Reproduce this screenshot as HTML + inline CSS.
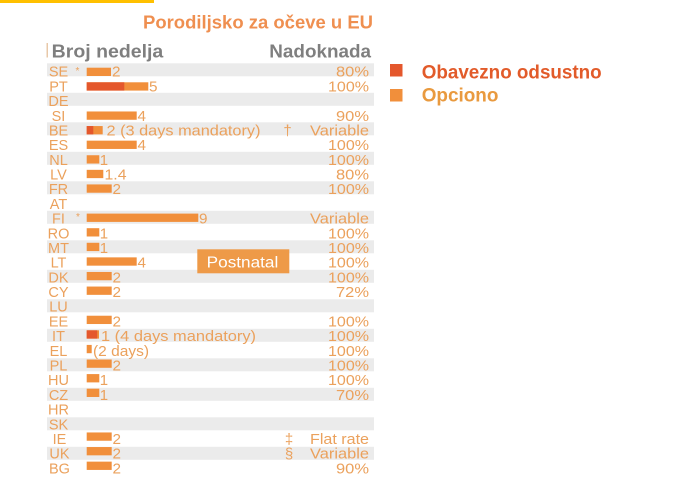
<!DOCTYPE html>
<html>
<head>
<meta charset="utf-8">
<style>
html,body{margin:0;padding:0;background:#fff;}
svg{display:block;}
text{font-family:"Liberation Sans",sans-serif;}
.c{fill:#EBA15C;font-size:14.5px;text-anchor:middle;}
.v{fill:#EBA15C;font-size:15px;}
.r{fill:#EBA15C;font-size:15px;text-anchor:end;}
.s{fill:#EBA15C;font-size:15px;text-anchor:middle;}
.a{fill:#EBA15C;font-size:10px;text-anchor:middle;}
.L{fill:#F18F3B;}
.D{fill:#E4572C;}
.g{fill:#EBEBEB;}
</style>
</head>
<body>
<svg width="674" height="496" viewBox="0 0 674 496" xmlns="http://www.w3.org/2000/svg">
<rect x="0" y="0" width="674" height="496" fill="#fff"/>
<rect x="0" y="0" width="154" height="3" fill="#FFC000"/>

<text x="143" y="28.3" font-size="18.5" font-weight="bold" fill="#EF8F50" textLength="230" lengthAdjust="spacingAndGlyphs">Porodiljsko za očeve u EU</text>

<rect x="46.5" y="43" width="1.5" height="14.5" fill="#E8C8A8"/>
<text x="51.7" y="57.3" font-size="18" font-weight="bold" fill="#7F7F7F" textLength="111.6" lengthAdjust="spacingAndGlyphs">Broj nedelja</text>
<text x="269.3" y="57.3" font-size="18" font-weight="bold" fill="#7F7F7F" textLength="101.7" lengthAdjust="spacingAndGlyphs">Nadoknada</text>

<!-- gray bands (even rows) -->
<rect class="g" x="47" y="63.3" width="327" height="13"/>
<rect class="g" x="47" y="92.8" width="327" height="13"/>
<rect class="g" x="47" y="122.3" width="327" height="13"/>
<rect class="g" x="47" y="151.8" width="327" height="13"/>
<rect class="g" x="47" y="181.3" width="327" height="13"/>
<rect class="g" x="47" y="210.8" width="327" height="13"/>
<rect class="g" x="47" y="240.3" width="327" height="13"/>
<rect class="g" x="47" y="269.8" width="327" height="13"/>
<rect class="g" x="47" y="299.3" width="327" height="13"/>
<rect class="g" x="47" y="328.8" width="327" height="13"/>
<rect class="g" x="47" y="358.3" width="327" height="13"/>
<rect class="g" x="47" y="387.8" width="327" height="13"/>
<rect class="g" x="47" y="417.3" width="327" height="13"/>
<rect class="g" x="47" y="446.8" width="327" height="13"/>

<!-- country codes -->
<text class="c" x="58.5" y="76.7">SE</text>
<text class="c" x="58.5" y="91.39">PT</text>
<text class="c" x="58.5" y="106.08">DE</text>
<text class="c" x="58.5" y="120.77">SI</text>
<text class="c" x="58.5" y="135.46">BE</text>
<text class="c" x="58.5" y="150.15">ES</text>
<text class="c" x="58.5" y="164.84">NL</text>
<text class="c" x="58.5" y="179.53">LV</text>
<text class="c" x="58.5" y="194.22">FR</text>
<text class="c" x="58.5" y="208.91">AT</text>
<text class="c" x="58.5" y="223.6">FI</text>
<text class="c" x="58.5" y="238.29">RO</text>
<text class="c" x="58.5" y="252.98">MT</text>
<text class="c" x="58.5" y="267.67">LT</text>
<text class="c" x="58.5" y="282.36">DK</text>
<text class="c" x="58.5" y="297.05">CY</text>
<text class="c" x="58.5" y="311.74">LU</text>
<text class="c" x="58.5" y="326.43">EE</text>
<text class="c" x="58.5" y="341.12">IT</text>
<text class="c" x="58.5" y="355.81">EL</text>
<text class="c" x="58.5" y="370.5">PL</text>
<text class="c" x="58.5" y="385.19">HU</text>
<text class="c" x="58.5" y="399.88">CZ</text>
<text class="c" x="58.5" y="414.57">HR</text>
<text class="c" x="58.5" y="429.26">SK</text>
<text class="c" x="59.5" y="443.95">IE</text>
<text class="c" x="59.5" y="458.64">UK</text>
<text class="c" x="59.5" y="473.33">BG</text>

<!-- asterisks -->
<text class="a" x="77.5" y="74">*</text>
<text class="a" x="78" y="220">*</text>

<!-- bars -->
<rect class="L" x="86.7" y="67.7" width="24.3" height="8.3"/>
<rect class="L" x="86.7" y="82.29" width="61.6" height="8.3"/>
<rect class="D" x="86.7" y="82.29" width="37.6" height="8.3"/>
<rect class="L" x="86.7" y="111.47" width="50" height="8.3"/>
<rect class="L" x="86.7" y="126.06" width="16" height="8.3"/>
<rect class="D" x="86.7" y="126.06" width="6.6" height="8.3"/>
<rect class="L" x="86.7" y="140.65" width="50" height="8.3"/>
<rect class="L" x="86.7" y="155.24" width="12.6" height="8.3"/>
<rect class="L" x="86.7" y="169.83" width="16.6" height="8.3"/>
<rect class="L" x="86.7" y="184.42" width="25" height="8.3"/>
<rect class="L" x="86.7" y="213.6" width="111.6" height="8.3"/>
<rect class="L" x="86.7" y="228.19" width="12.6" height="8.3"/>
<rect class="L" x="86.7" y="242.78" width="12.6" height="8.3"/>
<rect class="L" x="86.7" y="257.37" width="50" height="8.3"/>
<rect class="L" x="86.7" y="271.96" width="25" height="8.3"/>
<rect class="L" x="86.7" y="286.55" width="25" height="8.3"/>
<rect class="L" x="86.7" y="315.73" width="25" height="8.3"/>
<rect class="L" x="86.7" y="330.32" width="12.3" height="8.3"/>
<rect class="D" x="86.7" y="330.32" width="10.5" height="8.3"/>
<rect class="L" x="86.7" y="344.91" width="5" height="8.3"/>
<rect class="L" x="86.7" y="359.5" width="25" height="8.3"/>
<rect class="L" x="86.7" y="374.09" width="12.6" height="8.3"/>
<rect class="L" x="86.7" y="388.68" width="12.6" height="8.3"/>
<rect class="L" x="86.7" y="432.45" width="25" height="8.3"/>
<rect class="L" x="86.7" y="447.04" width="25" height="8.3"/>
<rect class="L" x="86.7" y="461.63" width="25" height="8.3"/>

<!-- values -->
<text class="v" x="112" y="76.7" textLength="8.5" lengthAdjust="spacingAndGlyphs">2</text>
<text class="v" x="149" y="91.39" textLength="8.5" lengthAdjust="spacingAndGlyphs">5</text>
<text class="v" x="137.5" y="120.77" textLength="8.5" lengthAdjust="spacingAndGlyphs">4</text>
<text class="v" x="106.5" y="135.46" textLength="154" lengthAdjust="spacingAndGlyphs">2 (3 days mandatory)</text>
<text class="v" x="137.5" y="150.15" textLength="8.5" lengthAdjust="spacingAndGlyphs">4</text>
<text class="v" x="99.8" y="164.84">1</text>
<text class="v" x="104.5" y="179.53" textLength="22" lengthAdjust="spacingAndGlyphs">1.4</text>
<text class="v" x="112.5" y="194.22" textLength="8.5" lengthAdjust="spacingAndGlyphs">2</text>
<text class="v" x="199" y="223.6" textLength="8.5" lengthAdjust="spacingAndGlyphs">9</text>
<text class="v" x="99.8" y="238.29">1</text>
<text class="v" x="99.8" y="252.98">1</text>
<text class="v" x="137.5" y="267.67" textLength="8.5" lengthAdjust="spacingAndGlyphs">4</text>
<text class="v" x="112.5" y="282.36" textLength="8.5" lengthAdjust="spacingAndGlyphs">2</text>
<text class="v" x="112.5" y="297.05" textLength="8.5" lengthAdjust="spacingAndGlyphs">2</text>
<text class="v" x="112.5" y="326.43" textLength="8.5" lengthAdjust="spacingAndGlyphs">2</text>
<text class="v" x="101" y="341.12" textLength="155" lengthAdjust="spacingAndGlyphs">1 (4 days mandatory)</text>
<text class="v" x="93" y="355.81" textLength="56" lengthAdjust="spacingAndGlyphs">(2 days)</text>
<text class="v" x="112.5" y="370.5" textLength="8.5" lengthAdjust="spacingAndGlyphs">2</text>
<text class="v" x="99.8" y="385.19">1</text>
<text class="v" x="99.8" y="399.88">1</text>
<text class="v" x="112.5" y="443.95" textLength="8.5" lengthAdjust="spacingAndGlyphs">2</text>
<text class="v" x="112.5" y="458.64" textLength="8.5" lengthAdjust="spacingAndGlyphs">2</text>
<text class="v" x="112.5" y="473.33" textLength="8.5" lengthAdjust="spacingAndGlyphs">2</text>

<!-- symbols -->
<text class="s" x="287.5" y="135.46">†</text>
<text class="s" x="289" y="443.95">‡</text>
<text class="s" x="289" y="458.64">§</text>

<!-- right column -->
<text class="r" x="369" y="76.7" textLength="33" lengthAdjust="spacingAndGlyphs">80%</text>
<text class="r" x="369" y="91.39" textLength="41" lengthAdjust="spacingAndGlyphs">100%</text>
<text class="r" x="369" y="120.77" textLength="33" lengthAdjust="spacingAndGlyphs">90%</text>
<text class="r" x="369" y="135.46" textLength="59" lengthAdjust="spacingAndGlyphs">Variable</text>
<text class="r" x="369" y="150.15" textLength="41" lengthAdjust="spacingAndGlyphs">100%</text>
<text class="r" x="369" y="164.84" textLength="41" lengthAdjust="spacingAndGlyphs">100%</text>
<text class="r" x="369" y="179.53" textLength="33" lengthAdjust="spacingAndGlyphs">80%</text>
<text class="r" x="369" y="194.22" textLength="41" lengthAdjust="spacingAndGlyphs">100%</text>
<text class="r" x="369" y="223.6" textLength="59" lengthAdjust="spacingAndGlyphs">Variable</text>
<text class="r" x="369" y="238.29" textLength="41" lengthAdjust="spacingAndGlyphs">100%</text>
<text class="r" x="369" y="252.98" textLength="41" lengthAdjust="spacingAndGlyphs">100%</text>
<text class="r" x="369" y="267.67" textLength="41" lengthAdjust="spacingAndGlyphs">100%</text>
<text class="r" x="369" y="282.36" textLength="41" lengthAdjust="spacingAndGlyphs">100%</text>
<text class="r" x="369" y="297.05" textLength="33" lengthAdjust="spacingAndGlyphs">72%</text>
<text class="r" x="369" y="326.43" textLength="41" lengthAdjust="spacingAndGlyphs">100%</text>
<text class="r" x="369" y="341.12" textLength="41" lengthAdjust="spacingAndGlyphs">100%</text>
<text class="r" x="369" y="355.81" textLength="41" lengthAdjust="spacingAndGlyphs">100%</text>
<text class="r" x="369" y="370.5" textLength="41" lengthAdjust="spacingAndGlyphs">100%</text>
<text class="r" x="369" y="385.19" textLength="41" lengthAdjust="spacingAndGlyphs">100%</text>
<text class="r" x="369" y="399.88" textLength="33" lengthAdjust="spacingAndGlyphs">70%</text>
<text class="r" x="369" y="443.95" textLength="59" lengthAdjust="spacingAndGlyphs">Flat rate</text>
<text class="r" x="369" y="458.64" textLength="59" lengthAdjust="spacingAndGlyphs">Variable</text>
<text class="r" x="369" y="473.33" textLength="33" lengthAdjust="spacingAndGlyphs">90%</text>

<!-- Postnatal box -->
<rect x="197.3" y="249.3" width="92" height="24" fill="#EE9A48"/>
<text x="206.7" y="267.3" font-size="16" fill="#fff" textLength="71.6" lengthAdjust="spacingAndGlyphs">Postnatal</text>

<!-- legend -->
<rect x="390" y="64" width="12.5" height="12.5" fill="#E4572C"/>
<rect x="390" y="89" width="12.5" height="12.5" fill="#F18F3B"/>
<text x="421.7" y="78.7" font-size="19" font-weight="bold" fill="#E25B2A" textLength="180" lengthAdjust="spacingAndGlyphs">Obavezno odsustno</text>
<text x="421.7" y="101.3" font-size="19" font-weight="bold" fill="#E99A3F" textLength="76.7" lengthAdjust="spacingAndGlyphs">Opciono</text>
</svg>
</body>
</html>
